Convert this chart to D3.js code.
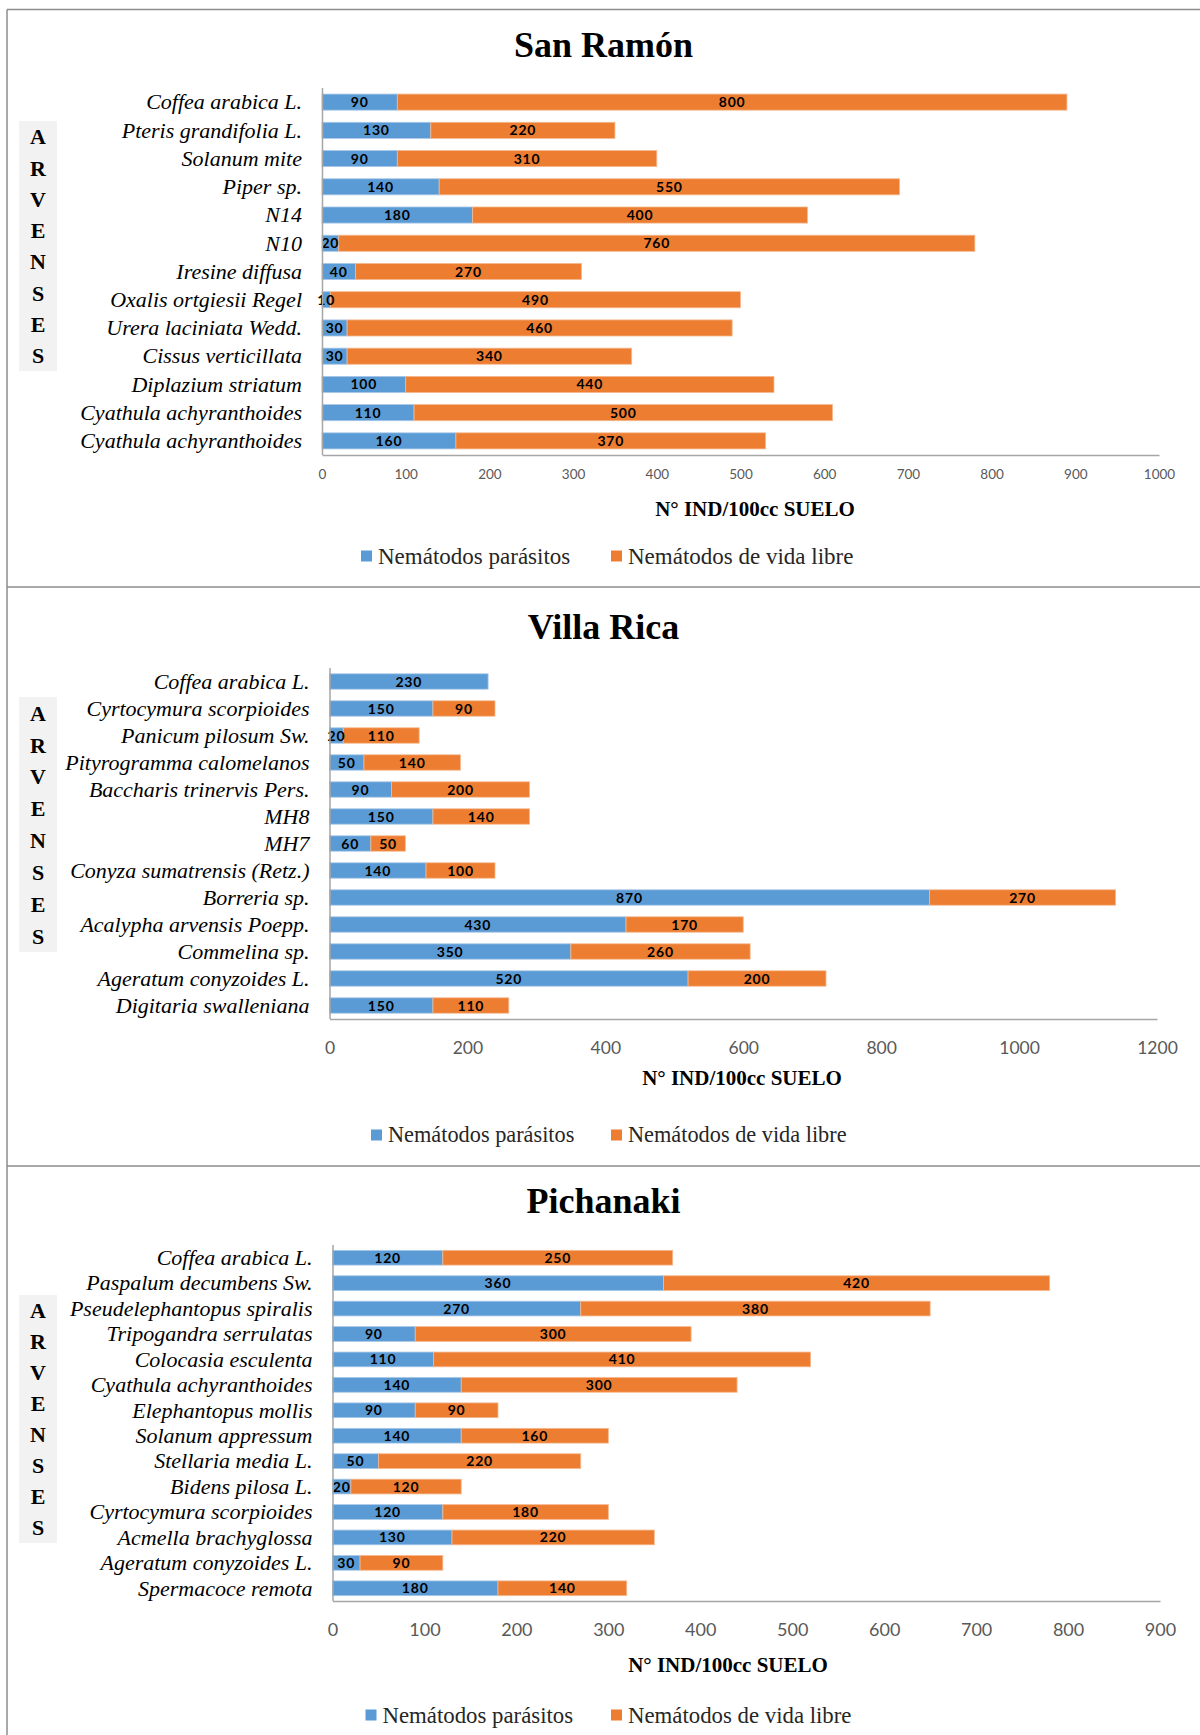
<!DOCTYPE html>
<html>
<head>
<meta charset="utf-8">
<script src="https://cdn.jsdelivr.net/npm/d3@7"></script>
<style>
  body { margin: 0; background: #fff; }
  svg { display: block; }
</style>
</head>
<body>
<svg id="chart" width="1200" height="1735"></svg>
<script>
// ---- San Ramón ----
const sanRamonCategorias = [
  "Coffea arabica L.", "Pteris grandifolia L.", "Solanum mite", "Piper sp.", "N14", "N10",
  "Iresine diffusa", "Oxalis ortgiesii Regel", "Urera laciniata Wedd.", "Cissus verticillata",
  "Diplazium striatum", "Cyathula achyranthoides", "Cyathula achyranthoides"
];
const sanRamonParasitos = [90, 130, 90, 140, 180, 20, 40, 10, 30, 30, 100, 110, 160];
const sanRamonVidaLibre = [800, 220, 310, 550, 400, 760, 270, 490, 460, 340, 440, 500, 370];
const sanRamonTicks = [0, 100, 200, 300, 400, 500, 600, 700, 800, 900, 1000];

// ---- Villa Rica ----
const villaRicaCategorias = [
  "Coffea arabica L.", "Cyrtocymura scorpioides", "Panicum pilosum Sw.", "Pityrogramma calomelanos",
  "Baccharis trinervis Pers.", "MH8", "MH7", "Conyza sumatrensis (Retz.)", "Borreria sp.",
  "Acalypha arvensis Poepp.", "Commelina sp.", "Ageratum conyzoides L.", "Digitaria swalleniana"
];
const villaRicaParasitos = [230, 150, 20, 50, 90, 150, 60, 140, 870, 430, 350, 520, 150];
const villaRicaVidaLibre = [0, 90, 110, 140, 200, 140, 50, 100, 270, 170, 260, 200, 110];
const villaRicaTicks = [0, 200, 400, 600, 800, 1000, 1200];

// ---- Pichanaki ----
const pichanakiCategorias = [
  "Coffea arabica L.", "Paspalum decumbens Sw.", "Pseudelephantopus spiralis", "Tripogandra serrulatas",
  "Colocasia esculenta", "Cyathula achyranthoides", "Elephantopus mollis", "Solanum appressum",
  "Stellaria media L.", "Bidens pilosa L.", "Cyrtocymura scorpioides", "Acmella brachyglossa",
  "Ageratum conyzoides L.", "Spermacoce remota"
];
const pichanakiParasitos = [120, 360, 270, 90, 110, 140, 90, 140, 50, 20, 120, 130, 30, 180];
const pichanakiVidaLibre = [250, 420, 380, 300, 410, 300, 90, 160, 220, 120, 180, 220, 90, 140];
const pichanakiTicks = [0, 100, 200, 300, 400, 500, 600, 700, 800, 900];

// ---- shared ----
const serieNombres = ["Nemátodos parásitos", "Nemátodos de vida libre"];
const serieColores = ["#5b9bd5", "#ed7d31"];
const serieBordes = ["#a9c8e8", "#f5b98f"];
const ejeTitulo = "N° IND/100cc SUELO";
const arvensesLetras = ["A", "R", "V", "E", "N", "S", "E", "S"];

const svg = d3.select("#chart");
const SERIF = "'Liberation Serif', 'Times New Roman', serif";
const SANS = "Lato, 'Open Sans', sans-serif";

// panel frame lines
const frame = svg.append("g").attr("stroke", "#8c8c8c").attr("stroke-width", 1.5);
frame.append("line").attr("x1", 7).attr("x2", 1200).attr("y1", 9.5).attr("y2", 9.5);
frame.append("line").attr("x1", 7).attr("x2", 7).attr("y1", 9.5).attr("y2", 1735);
frame.append("line").attr("x1", 7).attr("x2", 1200).attr("y1", 587).attr("y2", 587);
frame.append("line").attr("x1", 7).attr("x2", 1200).attr("y1", 1166).attr("y2", 1166);

function drawPanel(cfg) {
  const g = svg.append("g");
  const rows = cfg.categorias.map((c, i) => ({ id: i, nombre: c, p: cfg.parasitos[i], v: cfg.vidaLibre[i] }));
  const stack = d3.stack().keys(["p", "v"])(rows);

  const x = d3.scaleLinear().domain([0, d3.max(cfg.ticks)]).range([cfg.x0, cfg.x1]);
  const y = d3.scaleBand().domain(rows.map(r => r.id)).range([cfg.y0, cfg.y1]).paddingInner(cfg.pad).paddingOuter(cfg.pad / 2);

  // title
  g.append("text")
    .attr("x", 603.5).attr("y", cfg.titleY)
    .attr("text-anchor", "middle")
    .attr("font-family", SERIF).attr("font-weight", "bold").attr("font-size", 36)
    .attr("fill", "#000")
    .text(cfg.titulo);

  // ARVENSES side box
  g.append("rect")
    .attr("x", 19).attr("y", cfg.boxY0).attr("width", 38).attr("height", cfg.boxY1 - cfg.boxY0)
    .attr("fill", "#f2f2f2");
  const step = (cfg.boxY1 - cfg.boxY0) / arvensesLetras.length;
  g.selectAll("text.arv").data(arvensesLetras).join("text")
    .attr("class", "arv")
    .attr("x", 38).attr("y", (d, i) => cfg.boxY0 + step * (i + 0.5))
    .attr("dy", "0.35em")
    .attr("text-anchor", "middle")
    .attr("font-family", SERIF).attr("font-weight", "bold").attr("font-size", 22)
    .attr("fill", "#000")
    .text(d => d);

  // bars (all segments first, then their value labels on top)
  const barLayer = g.append("g");
  const labelLayer = g.append("g");
  stack.forEach((serie, si) => {
    const segs = serie.filter(d => d[1] - d[0] > 0);
    barLayer.append("g").selectAll("rect").data(segs).join("rect")
      .attr("x", d => x(d[0]))
      .attr("y", d => y(d.data.id))
      .attr("width", d => x(d[1]) - x(d[0]))
      .attr("height", y.bandwidth())
      .attr("fill", serieColores[si])
      .attr("stroke", serieBordes[si])
      .attr("stroke-width", 0.8);
    labelLayer.append("g").selectAll("text").data(segs).join("text")
      .attr("x", d => (x(d[0]) + x(d[1])) / 2)
      .attr("y", d => y(d.data.id) + y.bandwidth() / 2)
      .attr("dy", "0.36em")
      .attr("text-anchor", "middle")
      .attr("font-family", SANS).attr("font-weight", "bold").attr("font-size", 14)
      .attr("letter-spacing", 0.8)
      .attr("fill", "#000")
      .text(d => d[1] - d[0]);
  });

  // category axis
  const yAxis = g.append("g")
    .attr("transform", `translate(${cfg.x0},0)`)
    .call(d3.axisLeft(y).tickSize(0).tickSizeOuter(0).tickPadding(20)
      .tickFormat(i => cfg.categorias[i]));
  yAxis.select(".domain").attr("stroke", "#a6a6a6").attr("stroke-width", 1.5)
    .attr("d", `M0.5,${cfg.y0}V${cfg.y1}`);
  yAxis.selectAll(".tick text")
    .attr("font-family", SERIF).attr("font-style", "italic").attr("font-size", 22)
    .attr("fill", "#000").attr("dy", "0.33em");

  // value axis
  const xAxis = g.append("g")
    .attr("transform", `translate(0,${cfg.y1})`)
    .call(d3.axisBottom(x).tickValues(cfg.ticks).tickSize(0).tickSizeOuter(0).tickFormat(d3.format("d")));
  xAxis.select(".domain").attr("stroke", "#a6a6a6").attr("stroke-width", 1.5);
  xAxis.selectAll(".tick text")
    .attr("y", cfg.tickY - cfg.y1).attr("dy", "0.35em")
    .attr("font-family", SANS).attr("font-size", cfg.tickSize)
    .attr("fill", "#595959");

  // axis title
  g.append("text")
    .attr("x", cfg.axisTitleX).attr("y", cfg.axisTitleY).attr("dy", "0.35em")
    .attr("text-anchor", "middle")
    .attr("font-family", SERIF).attr("font-weight", "bold").attr("font-size", 21)
    .attr("fill", "#000")
    .text(ejeTitulo);

  // legend
  const legX = [cfg.legX0, 611];
  serieNombres.forEach((n, i) => {
    g.append("rect")
      .attr("x", legX[i]).attr("y", cfg.legY - 5.5).attr("width", 11).attr("height", 11)
      .attr("fill", serieColores[i]);
    g.append("text")
      .attr("x", legX[i] + 17).attr("y", cfg.legY).attr("dy", "0.33em")
      .attr("font-family", SERIF).attr("font-size", cfg.legSize)
      .attr("fill", "#262626")
      .text(n);
  });
}

drawPanel({
  titulo: "San Ramón", titleY: 57,
  categorias: sanRamonCategorias, parasitos: sanRamonParasitos, vidaLibre: sanRamonVidaLibre, ticks: sanRamonTicks,
  x0: 322, x1: 1159, y0: 88, y1: 455, pad: 0.43,
  tickY: 474, tickSize: 13.5,
  axisTitleX: 755, axisTitleY: 509,
  legY: 556, legX0: 361, legSize: 23,
  boxY0: 121, boxY1: 371
});

drawPanel({
  titulo: "Villa Rica", titleY: 639,
  categorias: villaRicaCategorias, parasitos: villaRicaParasitos, vidaLibre: villaRicaVidaLibre, ticks: villaRicaTicks,
  x0: 329.5, x1: 1157, y0: 668, y1: 1019, pad: 0.43,
  tickY: 1048, tickSize: 17.5,
  axisTitleX: 742, axisTitleY: 1078,
  legY: 1135, legX0: 371, legSize: 22.3,
  boxY0: 697, boxY1: 952
});

drawPanel({
  titulo: "Pichanaki", titleY: 1213,
  categorias: pichanakiCategorias, parasitos: pichanakiParasitos, vidaLibre: pichanakiVidaLibre, ticks: pichanakiTicks,
  x0: 332.5, x1: 1160, y0: 1245, y1: 1601, pad: 0.42,
  tickY: 1630, tickSize: 18,
  axisTitleX: 728, axisTitleY: 1665,
  legY: 1715, legX0: 365.5, legSize: 22.8,
  boxY0: 1295, boxY1: 1543
});
</script>
</body>
</html>
